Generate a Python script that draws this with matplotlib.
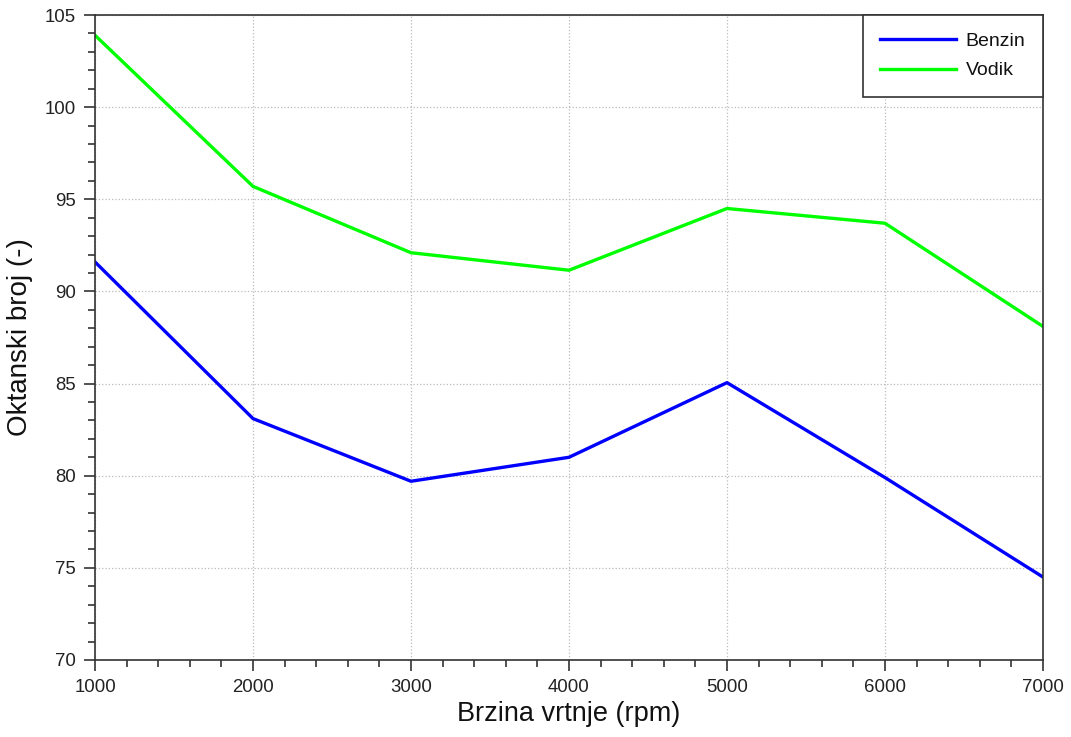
import matplotlib
matplotlib.use("Agg")
import matplotlib.pyplot as plt
from matplotlib.ticker import MultipleLocator

plt.rcParams['font.family'] = ['Liberation Sans', 'DejaVu Sans']

rpm = [1000, 2000, 3000, 4000, 5000, 6000, 7000]
benzin = [91.6, 83.1, 79.7, 81.0, 85.05, 79.9, 74.5]
vodik = [103.9, 95.7, 92.1, 91.15, 94.5, 93.7, 88.1]

fig = plt.figure(figsize=(10.71, 7.37), dpi=100)
ax = fig.add_axes([95/1071, 1-660/737, (1043-95)/1071, (660-15)/737])

ax.plot(rpm, benzin, color='#0000ff', lw=2.4, label='Benzin')
ax.plot(rpm, vodik, color='#00ff00', lw=2.4, label='Vodik')

ax.set_xlim(1000, 7000)
ax.set_ylim(70, 105)
ax.xaxis.set_major_locator(MultipleLocator(1000))
ax.xaxis.set_minor_locator(MultipleLocator(200))
ax.yaxis.set_major_locator(MultipleLocator(5))
ax.yaxis.set_minor_locator(MultipleLocator(1))
ax.tick_params(which='major', direction='out', length=8, width=1.2, labelsize=13.4,
               colors='#333333', labelcolor='#222222', pad=6)
ax.tick_params(which='minor', direction='out', length=5, width=1.2, colors='#333333')
ax.tick_params(top=False, right=False, which='both')
for s in ax.spines.values():
    s.set_color('#333333')
    s.set_linewidth(1.2)
ax.grid(True, which='major', linestyle=':', color='#bbbbbb', lw=0.9)

ax.set_xlabel('Brzina vrtnje (rpm)', fontsize=19.5, color='#111111', labelpad=3)
ax.set_ylabel('Oktanski broj (-)', fontsize=20, color='#111111', labelpad=8)

leg = ax.legend(loc='upper right', fontsize=14, frameon=True, fancybox=False,
                borderaxespad=0, edgecolor='#333333', framealpha=1,
                handlelength=3.9, handletextpad=0.5, borderpad=0.9, labelspacing=0.6)
leg.get_frame().set_linewidth(1.2)
for t in leg.get_texts():
    t.set_color('#111111')

fig.savefig('out.png', dpi=100)
